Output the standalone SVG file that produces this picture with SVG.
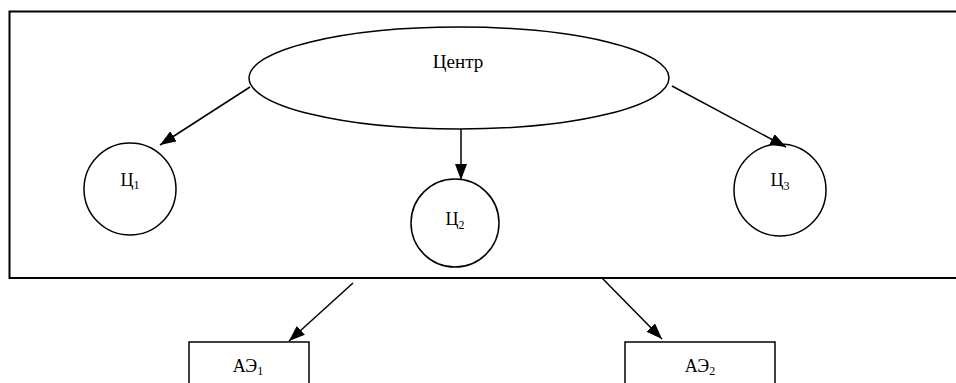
<svg xmlns="http://www.w3.org/2000/svg" width="956" height="383" viewBox="0 0 956 383">
<style>
.s{fill:#fff;stroke:#000;stroke-width:1.5}
text{font-family:"Liberation Serif","DejaVu Serif","Times New Roman",serif;font-size:18px;fill:#000;text-anchor:middle}
.sub{font-size:12px}
.c{stroke:#000;stroke-width:1.5;fill:none;marker-end:url(#ah)}
</style>
<defs>
<marker id="ah" viewBox="0 0 16 12" refX="16" refY="6" markerWidth="16" markerHeight="12" markerUnits="userSpaceOnUse" orient="auto">
<path d="M0,0 L16,6 L0,12 z" fill="#000"/>
</marker>
</defs>
<g id="frame"><rect x="9.5" y="11.5" width="960" height="266.5" fill="none" stroke="#000" stroke-width="2"/></g>
<g id="center"><ellipse class="s" cx="459" cy="78" rx="210" ry="51"/><text x="458" y="68" style="font-size:19px">Центр</text></g>
<g id="c1"><circle class="s" cx="130" cy="189" r="46"/><text x="130" y="186">Ц<tspan class="sub" dy="3">1</tspan></text></g>
<g id="c2"><circle class="s" cx="455" cy="223" r="44"/><text x="455" y="225">Ц<tspan class="sub" dy="4">2</tspan></text></g>
<g id="c3"><circle class="s" cx="780" cy="190" r="46"/><text x="780" y="186">Ц<tspan class="sub" dy="4">3</tspan></text></g>
<g id="ae1"><rect class="s" x="189" y="342" width="120" height="60"/><text x="248" y="372">АЭ<tspan class="sub" dy="3">1</tspan></text></g>
<g id="ae2"><rect class="s" x="625" y="342" width="150" height="60"/><text x="700" y="372">АЭ<tspan class="sub" dy="3">2</tspan></text></g>
<g id="connectors">
<line class="c" x1="250" y1="87" x2="160" y2="145"/>
<line class="c" x1="461" y1="129" x2="461" y2="180"/>
<line class="c" x1="672" y1="86" x2="786" y2="147"/>
<line class="c" x1="353" y1="283" x2="289" y2="341"/>
<line class="c" x1="602" y1="278" x2="662" y2="339"/>
</g>
</svg>
